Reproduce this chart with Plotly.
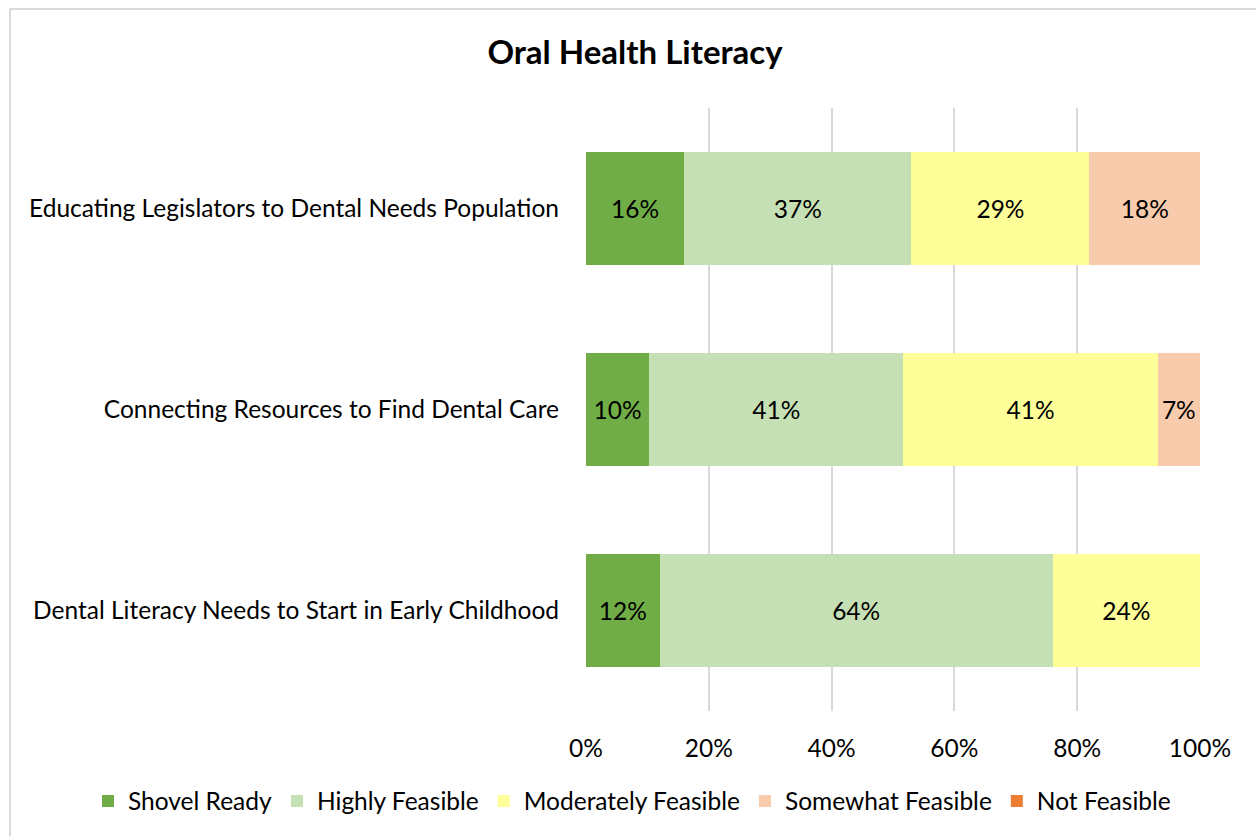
import plotly.graph_objects as go

# Survey categories (top to bottom) and feasibility shares in percent
categories = [
    "Educating Legislators to Dental Needs Population",
    "Connecting Resources to Find Dental Care",
    "Dental Literacy Needs to Start in Early Childhood",
]
shovel_ready = [16, 10.3, 12]
highly_feasible = [37, 41.4, 64]
moderately_feasible = [29, 41.4, 24]
somewhat_feasible = [18, 6.9, None]
not_feasible = [None, None, None]

series = [
    ("Shovel Ready", shovel_ready, "#70AD47"),
    ("Highly Feasible", highly_feasible, "#C5E0B4"),
    ("Moderately Feasible", moderately_feasible, "#FFFF99"),
    ("Somewhat Feasible", somewhat_feasible, "#F8CBAD"),
    ("Not Feasible", not_feasible, "#ED7D31"),
]

FONT = "Lato, 'Open Sans', sans-serif"
FS = 24.5

# plot area in pixels: x 586..1200, y 108..711
PL, PR, PT, PB = 586, 1200, 108, 711
PW, PH = PR - PL, PB - PT

fig = go.Figure()
for name, vals, color in series:
    fracs = [None if v is None else v / 100 for v in vals]
    fig.add_trace(go.Bar(
        y=categories,
        x=fracs,
        name=name,
        orientation="h",
        marker=dict(color=color, line=dict(width=0)),
        text=[None if v is None else f"{round(v)}%" for v in vals],
        textposition="inside",
        insidetextanchor="middle",
        textangle=0,
        textfont=dict(size=FS, color="#000000", family=FONT),
        constraintext="none",
        hoverinfo="name+x",
    ))

fig.update_layout(
    barmode="stack",
    bargap=0.433,
    width=1256,
    height=836,
    margin=dict(l=PL, r=1256 - PR, t=PT, b=836 - PB, autoexpand=False),
    paper_bgcolor="white",
    plot_bgcolor="white",
    font=dict(family=FONT, size=FS, color="#000000"),
    title=dict(
        text="<b>Oral Health Literacy</b>",
        x=0.5056, xanchor="center",
        y=1 - 52 / 836, yanchor="middle",
        font=dict(size=33, family=FONT, color="#000000"),
    ),
    xaxis=dict(
        range=[0, 1],
        tickvals=[0, 0.2, 0.4, 0.6, 0.8, 1.0],
        ticktext=["0%", "20%", "40%", "60%", "80%", "100%"],
        showgrid=True,
        gridcolor="#D9D9D9",
        gridwidth=2,
        zeroline=False,
        showline=False,
        ticks="",
        ticklabelstandoff=20,
        tickfont=dict(size=FS),
        automargin=False,
    ),
    yaxis=dict(
        categoryorder="array",
        categoryarray=categories[::-1],
        showgrid=False,
        zeroline=False,
        showline=False,
        ticks="",
        ticklabelstandoff=26,
        tickfont=dict(size=FS),
        automargin=False,
    ),
    legend=dict(
        orientation="h",
        x=(88 - PL) / PW,
        xanchor="left",
        y=(PB - 801) / PH,
        yanchor="middle",
        font=dict(size=FS),
        traceorder="normal",
        itemwidth=30,
        bgcolor="rgba(0,0,0,0)",
    ),
    showlegend=True,
    shapes=[
        # chart frame: only the left and top edges fall inside the page
        dict(
            type="line", xref="paper", yref="paper",
            x0=(10 - PL) / PW, x1=(10 - PL) / PW,
            y0=(PB - 900) / PH, y1=(PB - 9) / PH,
            line=dict(color="#D9D9D9", width=2),
            layer="below",
        ),
        dict(
            type="line", xref="paper", yref="paper",
            x0=(10 - PL) / PW, x1=(1400 - PL) / PW,
            y0=(PB - 9) / PH, y1=(PB - 9) / PH,
            line=dict(color="#D9D9D9", width=2),
            layer="below",
        ),
    ],
)

fig.write_html("out.html", config={"displayModeBar": False})
